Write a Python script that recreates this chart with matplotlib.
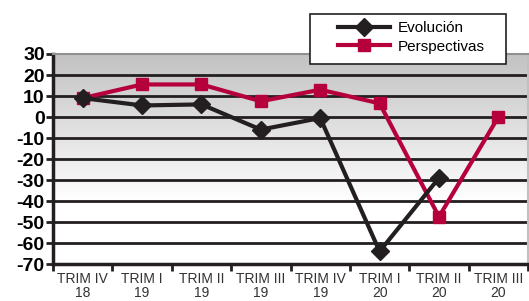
import matplotlib
matplotlib.use("Agg")
import matplotlib.pyplot as plt
import numpy as np
from matplotlib.colors import LinearSegmentedColormap
from matplotlib.patches import Rectangle

categories = ["TRIM IV\n18", "TRIM I\n19", "TRIM II\n19", "TRIM III\n19",
              "TRIM IV\n19", "TRIM I\n20", "TRIM II\n20", "TRIM III\n20"]
evolucion = [9, 5.5, 6, -6, -0.5, -64, -29]
perspectivas = [9, 15.5, 15.5, 7.5, 13, 6.5, -47.5, 0]
yticks = [30, 20, 10, 0, -10, -20, -30, -40, -50, -60, -70]

black = "#231f20"
red = "#b5003c"

fig = plt.figure(figsize=(5.29, 3.01), dpi=100)
ax = fig.add_axes([0.1002, 0.1229, 0.898, 0.6977])

ax.set_xlim(-0.5, len(categories) - 0.5)
ax.set_ylim(-70, 30)

# gradient background
cmap = LinearSegmentedColormap.from_list("g", [(0, "#ffffff"), (0.3, "#ffffff"), (0.6, "#e4e4e4"), (1, "#c2c2c2")])
grad = np.linspace(0, 1, 256).reshape(-1, 1)
ax.imshow(grad, extent=[-0.5, len(categories) - 0.5, -70, 30], origin="lower",
          aspect="auto", cmap=cmap, zorder=0)

for y in yticks[1:-1]:
    ax.axhline(y, color=black, lw=2, zorder=1)

x_e = np.arange(len(evolucion))
x_p = np.arange(len(perspectivas))
ax.plot(x_e, evolucion, color=black, lw=3, marker="D", markersize=9.5, zorder=3, label="Evolución")
ax.plot(x_p, perspectivas, color=red, lw=3, marker="s", markersize=9, zorder=2, label="Perspectivas")

ax.set_yticks(yticks)
ax.set_yticklabels([str(v) for v in yticks], fontfamily="Liberation Sans", fontweight="bold", fontsize=14)
ax.tick_params(axis="y", length=5, width=2, color=black, pad=1)

ax.set_xticks(np.arange(-0.5, len(categories) + 0.5, 1), minor=False)
ax.set_xticklabels([])
ax.set_xticks(np.arange(len(categories)), minor=True)
ax.set_xticklabels(categories, minor=True, fontfamily="Liberation Sans", fontsize=10, color="#333333",
                   linespacing=0.95)
ax.tick_params(axis="x", which="major", length=5, width=2, color=black)
ax.tick_params(axis="x", which="minor", length=0, pad=6)

for s in ["left", "bottom"]:
    ax.spines[s].set_color(black)
    ax.spines[s].set_linewidth(2.5)
ax.spines["top"].set_color("#909090")
ax.spines["top"].set_linewidth(1.5)
ax.spines["right"].set_color("#c0c0c0")
ax.spines["right"].set_linewidth(1.5)

# legend box
W, H = 529, 301
box = Rectangle((310 / W, 1 - 64 / H), 196 / W, 50 / H, transform=fig.transFigure,
                facecolor="white", edgecolor=black, linewidth=1.2, zorder=9, clip_on=False)
ax.add_artist(box)
leg = ax.legend(loc="upper left", bbox_to_anchor=(338 / W, 1 - 21 / H), bbox_transform=fig.transFigure,
                frameon=False, prop={"family": "Liberation Sans", "size": 11},
                handlelength=3.4, borderpad=0, labelspacing=0.3, borderaxespad=0, handletextpad=0.5)
leg.set_zorder(10)

fig.savefig("out.png", dpi=100)
